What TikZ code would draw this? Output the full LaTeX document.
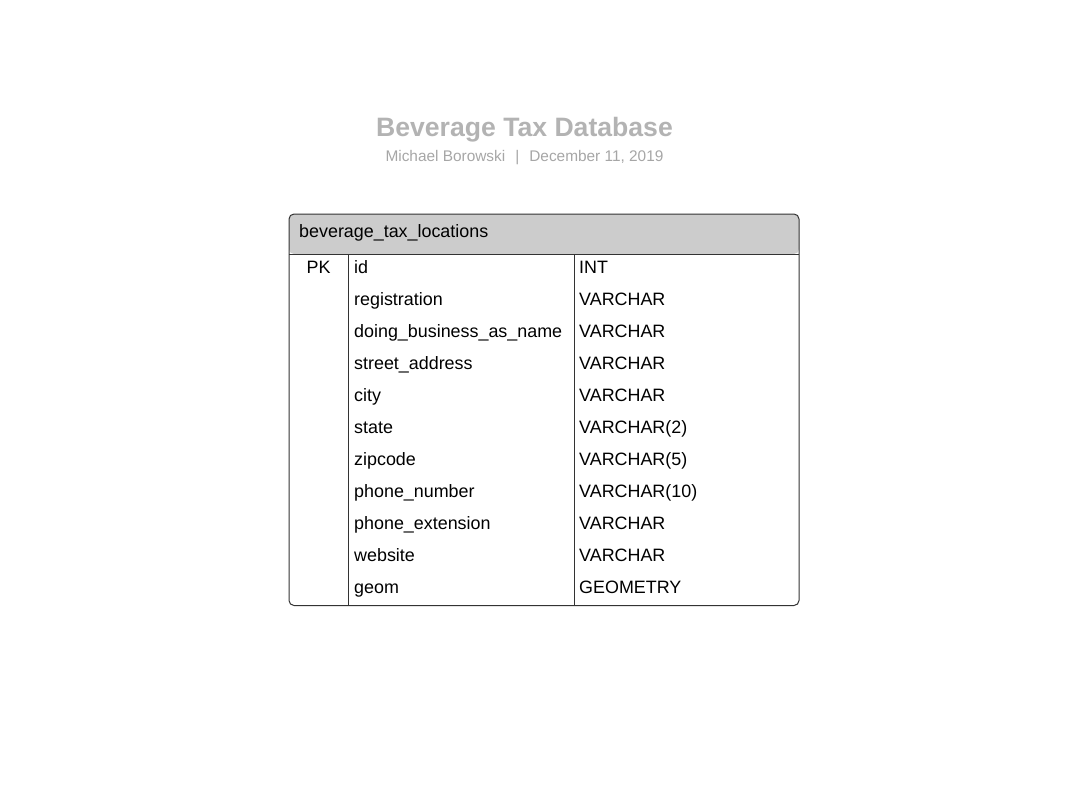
\documentclass[tikz,border=0pt]{standalone}
\usepackage{fontspec}
\setmainfont{Liberation Sans}
\definecolor{titlegray}{HTML}{B3B3B3}
\definecolor{subgray}{HTML}{A6A6A6}
\definecolor{headfill}{HTML}{CCCCCC}
\definecolor{linecol}{HTML}{333333}
\begin{document}
\begin{tikzpicture}[x=1pt,y=-1pt,
  cell/.style={inner sep=0pt,anchor=base west,font=\fontsize{17.9}{20}\selectfont},
  pkcell/.style={inner sep=0pt,anchor=base,font=\fontsize{17.9}{20}\selectfont},
  tline/.style={draw=linecol,line width=1pt}]
\useasboundingbox (0,0) rectangle (1089,795);
\node[inner sep=0pt,anchor=base,text=titlegray,font=\fontsize{26.6}{30}\selectfont\bfseries] (title) at (524.5,136.5) {Beverage Tax Database};
\node[inner sep=0pt,anchor=base,text=subgray,font=\fontsize{15.4}{17}\selectfont] (sub) at (524.5,161) {Michael Borowski\hspace{0.65em}|\hspace{0.65em}December 11, 2019};
% table
\path[fill=headfill,rounded corners=5pt] (289,254) -- (289,214) -- (799,214) -- (799,254) -- cycle;
\draw[tline,rounded corners=5pt] (289,214) rectangle (799,605.5);
\draw[tline] (289,254) -- (799,254);
\draw[tline] (348.5,254) -- (348.5,605.5);
\draw[tline] (574.5,254) -- (574.5,605.5);
\node[cell] (hdr) at (299,237) {beverage\_tax\_locations};
\node[pkcell] (pk) at (318.5,273) {PK};
\foreach \n/\t [count=\i from 0] in {id/INT,registration/VARCHAR,doing\_business\_as\_name/VARCHAR,street\_address/VARCHAR,city/VARCHAR,state/VARCHAR(2),zipcode/VARCHAR(5),phone\_number/VARCHAR(10),phone\_extension/VARCHAR,website/VARCHAR,geom/GEOMETRY}{
  \node[cell] (name\i) at (354,273+32*\i) {\n};
  \node[cell] (type\i) at (579,273+32*\i) {\t};
}
\end{tikzpicture}
\end{document}
